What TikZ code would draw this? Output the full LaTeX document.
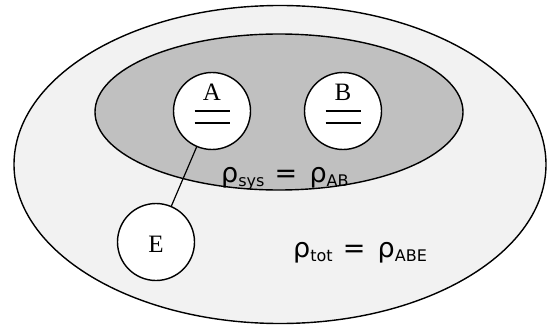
\documentclass[tikz,border=0pt]{standalone}
\usepackage{fontspec}
\setmainfont{Liberation Serif}
\newfontfamily\dejavu{DejaVu Sans}
\definecolor{outerfill}{HTML}{F2F2F2}
\definecolor{innerfill}{HTML}{C0C0C0}
\begin{document}
\begin{tikzpicture}[x=1pt,y=-1pt,
  ell/.style={draw=black,line width=1.4pt},
  party/.style={circle,draw=black,fill=white,line width=1.4pt,minimum size=77pt,inner sep=0pt},
  lbl/.style={font=\fontsize{25}{27}\selectfont,inner sep=0pt},
  rholbl/.style={font=\dejavu\fontsize{27}{30}\selectfont,inner sep=0pt,anchor=base west},
  bar/.style={line width=1.1pt}]
\useasboundingbox (0,0) rectangle (560,329);
\fill[white] (0,0) rectangle (560,329);
\draw[ell,fill=outerfill] (280,164.5) ellipse [x radius=266, y radius=159];
\draw[ell,fill=innerfill] (279,112) ellipse [x radius=184, y radius=78];
\node[party] (A) at (212,111) {};
\node[party] (B) at (343,111) {};
\node[party] (E) at (156,242) {};
\draw[line width=1.2pt] (A) -- (E);
\node[lbl,anchor=base] (Al) at (212,100) {A};
\node[lbl,anchor=base] (Bl) at (343,100) {B};
\node[lbl] (El) at (156,244) {E};
\draw[bar] (194.5,111) -- (229.5,111);
\draw[bar] (194.5,123) -- (229.5,123);
\draw[bar] (325.5,111) -- (360.5,111);
\draw[bar] (325.5,123) -- (360.5,123);
\node[rholbl] (rsys) at (221,182) {ρ\raisebox{-0.3ex}{\fontsize{16}{17}\selectfont sys}\hspace{0.38em}=\hspace{0.45em}ρ\raisebox{-0.3ex}{\fontsize{16}{17}\selectfont AB}};
\node[rholbl] (rtot) at (293,257) {ρ\raisebox{-0.3ex}{\fontsize{16}{17}\selectfont tot}\hspace{0.38em}=\hspace{0.45em}ρ\raisebox{-0.3ex}{\fontsize{16}{17}\selectfont ABE}};
\end{tikzpicture}
\end{document}
